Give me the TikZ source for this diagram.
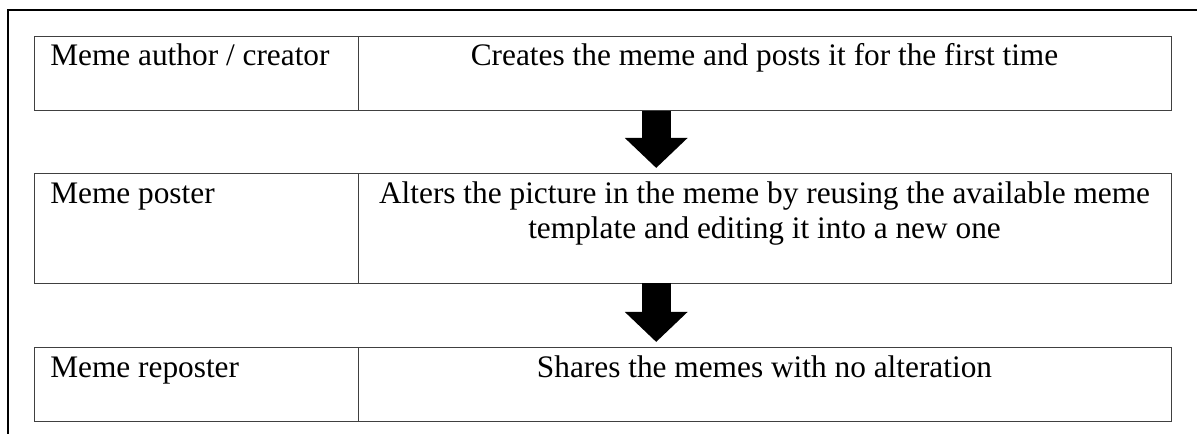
\documentclass[tikz,border=0pt]{standalone}
\usepackage{fontspec}
\setmainfont{Liberation Serif}
\usetikzlibrary{arrows.meta}

\begin{document}
\begin{tikzpicture}[x=0.75pt,y=0.75pt,yscale=-1,
  rowbox/.style={draw={rgb, 255:red, 64; green, 64; blue, 64}, line width=0.75pt, inner sep=0pt, outer sep=0pt, minimum width=852.4pt},
  divline/.style={draw={rgb, 255:red, 64; green, 64; blue, 64}, line width=0.75pt},
  celltext/.style={font=\fontsize{23.5}{26.8}\selectfont, inner sep=0pt},
  blockarrow/.style={line width=21.75pt, -{Triangle[length=22.5pt,width=45.75pt]}, shorten >=4pt}
]
\useasboundingbox (0,0) rectangle (1197,434);

%Shape: Frame
\draw [line width=1.5pt] (7.5,434) -- (7.5,10) -- (1197,10) ;

%Shape: Rows
\node [rowbox, minimum height=56pt] (r1) at (602.75,73.35) {};
\node [rowbox, minimum height=82.5pt] (r2) at (602.75,228.3) {};
\node [rowbox, minimum height=55.3pt] (r3) at (602.75,384.15) {};
\coordinate (div) at (358.3,0);
\coordinate (ax) at (656.2,0);
\draw [divline] (div |- r1.north) -- (div |- r1.south) ;
\draw [divline] (div |- r2.north) -- (div |- r2.south) ;
\draw [divline] (div |- r3.north) -- (div |- r3.south) ;

% Text Node
\node [celltext, anchor=base west] (author) at (50,65.5) {Meme author / creator};
% Text Node
\node [celltext, anchor=base] (authordo) at (764.5,65.5) {Creates the meme and posts it for the first time};
% Text Node
\node [celltext, anchor=base west] (poster) at (50,203.3) {Meme poster};
% Text Node
\node [celltext, anchor=base, align=center] (posterdo) at (764.5,239) {Alters the picture in the meme by reusing the available meme\\template and editing it into a new one};
% Text Node
\node [celltext, anchor=base west] (reposter) at (50,377.3) {Meme reposter};
% Text Node
\node [celltext, anchor=base] (reposterdo) at (764.5,377.3) {Shares the memes with no alteration};

%Shape: Arrows
\draw [blockarrow] (ax |- r1.south) -- (ax |- r2.north) ;
\draw [blockarrow] (ax |- r2.south) -- (ax |- r3.north) ;
\end{tikzpicture}
\end{document}
